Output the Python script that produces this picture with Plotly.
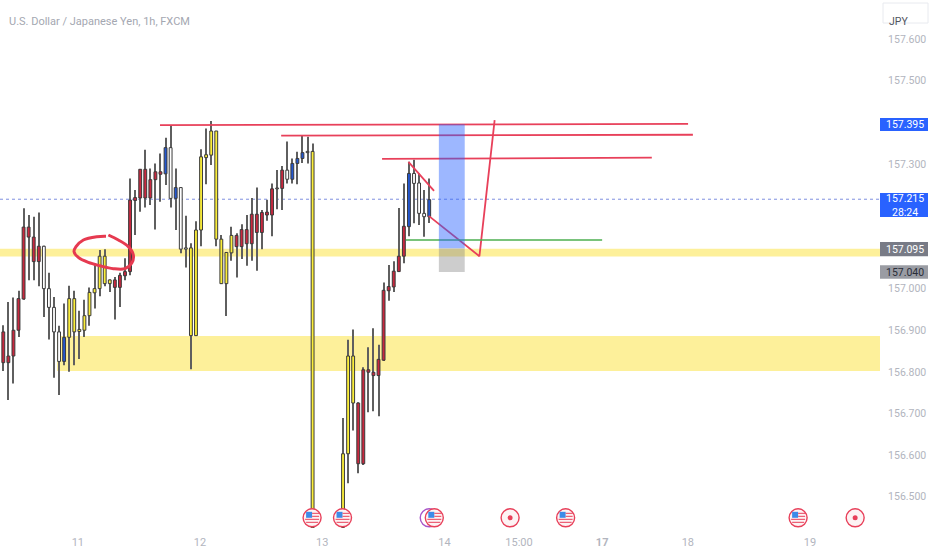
import plotly.graph_objects as go

# 1h candles, prices. Gap of 5 bars before the second leg of day 13.
candle_x = list(range(0, 62)) + list(range(67, 85))

highs = [156.912, 156.968, 156.979, 156.995, 157.193, 157.177, 157.173, 157.183, 157.103, 157.038,
         156.980, 156.911, 156.964, 157.007, 156.995, 156.947, 156.973, 157.003, 157.061, 157.093,
         157.095, 157.022, 157.028, 157.038, 157.073, 157.265, 157.237, 157.287, 157.334, 157.289,
         157.301, 157.325, 157.363, 157.393, 157.289, 157.243, 157.175, 157.109, 157.162, 157.335,
         157.385, 157.403, 157.379, 157.129, 157.087, 157.149, 157.133, 157.155, 157.177, 157.218,
         157.243, 157.189, 157.214, 157.253, 157.285, 157.295, 157.354, 157.313, 157.329, 157.369,
         157.365, 157.349,
         156.689, 156.877, 156.902, 156.727, 156.811, 156.859, 156.905, 156.865, 157.015, 157.057,
         157.066, 157.194, 157.253, 157.305, 157.310, 157.277, 157.237, 157.265]
body_tops = [156.896, 156.838, 156.900, 156.976, 157.148, 157.148, 157.124, 157.102, 157.102, 157.000,
             156.955, 156.896, 156.883, 156.976, 156.976, 156.902, 156.935, 156.991, 157.000, 157.078,
             157.078, 157.021, 157.021, 157.032, 157.041, 157.213, 157.219, 157.287, 157.287, 157.262,
             157.281, 157.281, 157.339, 157.339, 157.243, 157.243, 157.098, 157.098, 157.141, 157.317,
             157.322, 157.379, 157.379, 157.119, 157.087, 157.128, 157.128, 157.142, 157.142, 157.179,
             157.179, 157.183, 157.184, 157.240, 157.242, 157.285, 157.285, 157.301, 157.313, 157.327,
             157.330, 157.330,
             156.603, 156.838, 156.838, 156.725, 156.805, 156.805, 156.799, 156.830, 156.996, 157.005,
             157.042, 157.078, 157.150, 157.277, 157.277, 157.254, 157.181, 157.214]
body_bottoms = [156.822, 156.822, 156.838, 156.900, 156.975, 157.124, 157.065, 157.065, 157.000, 156.955,
                156.896, 156.825, 156.825, 156.883, 156.896, 156.897, 156.900, 156.935, 156.990, 157.000,
                157.012, 157.012, 157.003, 157.003, 157.031, 157.041, 157.212, 157.218, 157.218, 157.218,
                157.262, 157.275, 157.276, 157.217, 157.217, 157.095, 157.095, 156.887, 156.887, 157.141,
                157.315, 157.321, 157.119, 157.012, 157.012, 157.086, 157.101, 157.101, 157.108, 157.108,
                157.135, 157.135, 157.177, 157.177, 157.240, 157.241, 157.263, 157.263, 157.301, 157.313,
                157.327, 156.425,
                156.426, 156.603, 156.725, 156.579, 156.579, 156.799, 156.791, 156.791, 156.828, 156.995,
                157.004, 157.041, 157.078, 157.149, 157.253, 157.181, 157.173, 157.173]
lows = [156.802, 156.732, 156.772, 156.884, 156.973, 157.020, 157.020, 157.006, 156.932, 156.878,
        156.786, 156.744, 156.816, 156.800, 156.816, 156.831, 156.884, 156.911, 156.952, 156.982,
        157.006, 156.992, 156.926, 156.956, 157.020, 157.032, 157.129, 157.185, 157.195, 157.201,
        157.142, 157.209, 157.249, 157.195, 157.141, 157.085, 157.051, 156.806, 156.886, 157.102,
        157.251, 157.297, 157.102, 157.011, 156.934, 157.067, 157.027, 157.071, 157.055, 157.067,
        157.043, 157.095, 157.163, 157.126, 157.191, 157.189, 157.253, 157.253, 157.251, 157.302,
        157.301, 156.420,
        156.420, 156.532, 156.659, 156.556, 156.576, 156.703, 156.705, 156.693, 156.826, 156.971,
        156.992, 157.040, 157.061, 157.126, 157.157, 157.153, 157.125, 157.158]
kinds = list("RRRRRRRR" "WWWW" "B" "YYYYYYYYY" "RRRRRRRRRR" "B" "W" "B" "W" "D" "YYYYYYYYY"
             "RRRRRRRR" "D" "R" "W" "BBB" "D" "Y"
             "YYY" "RRRRRRRRRR" "B" "WWW" "B")

shown_prices = [157.6, 157.5, 157.3, 157.0, 156.9, 156.8, 156.7, 156.6, 156.5]
time_ticks = [14.7, 38.8, 62.9, 87.0, 101.7, 118.1, 135.0, 159.1]
time_labels = ["11", "12", "13", "14", "15:00", "<b>17</b>", "18", "19"]

# hand drawn lines on the chart: [x0, price0, x1, price1]
red_levels = [[30.9, 157.393, 135.05, 157.396],
              [54.8, 157.368, 136.0, 157.370],
              [74.7, 157.312, 127.9, 157.315],
              [79.9, 157.305, 84.95, 157.235]]
zigzag_x = [83.9, 93.9, 96.9]
zigzag_y = [157.175, 157.078, 157.405]
green_x = [79.4, 118.1]
green_y = [157.117, 157.117]
circle_x = [20.26, 18.42, 15.79, 14.34, 13.95, 14.80, 16.77, 19.07, 21.7, 24.0, 25.32, 25.65, 24.66, 22.69, 20.72]
circle_y = [157.126, 157.125, 157.117, 157.101, 157.089, 157.075, 157.063, 157.055, 157.048, 157.048,
            157.061, 157.081, 157.101, 157.117, 157.129]

# zones
x_end = 172.9
upper_band = [157.096, 157.077]
lower_band = [156.886, 156.802]
lower_band_start = 10.6
target_x = [85.9, 91.0]
target_y = [157.395, 157.097]
stop_y = [157.097, 157.040]

# economic events along the bottom
flag_events = [60.9, 66.9, 85.0, 110.9, 156.75]
dot_events = [99.95, 168.0]
purple_event = 84.0
event_price = 156.449

KIND_COLORS = {"R": "#c9283f", "Y": "#fbee3a", "B": "#2458d0", "W": "#ffffff", "D": "#f4f0d8"}
RED = "#e8405a"
GREY_TEXT = "#b2b5be"

fig = go.Figure()

# wicks first, then bodies on top
fig.add_trace(go.Bar(x=candle_x, base=lows, y=[h - l for h, l in zip(highs, lows)], width=0.2,
                     marker=dict(color="#5f5f5f", line=dict(width=0)), hoverinfo="skip"))
fig.add_trace(go.Bar(x=candle_x, base=body_bottoms, y=[t - b for t, b in zip(body_tops, body_bottoms)], width=0.56,
                     marker=dict(color=[KIND_COLORS[k] for k in kinds], line=dict(color="#3a3a3a", width=1)),
                     hoverinfo="skip"))

for x0, y0, x1, y1 in red_levels:
    fig.add_trace(go.Scatter(x=[x0, x1], y=[y0, y1], mode="lines", line=dict(color=RED, width=1.8), hoverinfo="skip"))
fig.add_trace(go.Scatter(x=zigzag_x, y=zigzag_y, mode="lines", line=dict(color=RED, width=1.8), hoverinfo="skip"))
fig.add_trace(go.Scatter(x=green_x, y=green_y, mode="lines", line=dict(color="#4caf50", width=1.3), hoverinfo="skip"))
fig.add_trace(go.Scatter(x=circle_x, y=circle_y, mode="lines", line=dict(color="#e63a50", width=3, shape="spline"),
                         hoverinfo="skip"))

shapes = [
    dict(type="rect", x0=-0.65, x1=x_end, y0=upper_band[0], y1=upper_band[1], fillcolor="#fdf09a", line_width=0, layer="below"),
    dict(type="rect", x0=lower_band_start, x1=x_end, y0=lower_band[0], y1=lower_band[1], fillcolor="#fdf09a", line_width=0, layer="below"),
    dict(type="rect", x0=target_x[0], x1=target_x[1], y0=target_y[0], y1=target_y[1], fillcolor="rgba(41,98,255,0.46)", line_width=0),
    dict(type="rect", x0=target_x[0], x1=target_x[1], y0=stop_y[0], y1=stop_y[1], fillcolor="rgba(130,130,130,0.4)", line_width=0),
    dict(type="line", xref="paper", x0=0, x1=1, y0=157.215, y1=157.215, line=dict(color="#7f8fe0", width=1, dash="dot"), layer="below"),
]


def pixel_shape(kind, xc, x0, x1, y0, y1, **kw):
    return dict(type=kind, xsizemode="pixel", ysizemode="pixel", xanchor=xc, yanchor=event_price,
                x0=x0, x1=x1, y0=y0, y1=y1, **kw)


shapes.append(pixel_shape("circle", purple_event, -9, 9, -9, 9, fillcolor="#ffffff", line=dict(color="#a855c8", width=1.4)))
for xc in flag_events:
    shapes.append(pixel_shape("circle", xc, -9, 9, -9, 9, fillcolor="#fdf3f4", line=dict(color=RED, width=1.4)))
    shapes.append(pixel_shape("rect", xc, -6, 0, 0, 6, fillcolor="#3d8be8", line_width=0))
    for offset, left in [(5, 0), (2, 0), (-1, -7), (-4, -6)]:
        shapes.append(pixel_shape("rect", xc, left, -left if left else 7, offset - 1, offset, fillcolor=RED, line_width=0))
for xc in dot_events:
    shapes.append(pixel_shape("circle", xc, -9, 9, -9, 9, fillcolor="#fdf3f4", line=dict(color=RED, width=1.4)))
    shapes.append(pixel_shape("circle", xc, -2.5, 2.5, -2.5, 2.5, fillcolor=RED, line_width=0))

# price tags in the right hand scale
tag_right = 1 + 48 / 880
tags = [(157.410, 157.379, "#2962ff", "157.395", "#ffffff", 157.395),
        (157.230, 157.172, "#2962ff", "157.215<br>28:24", "#ffffff", 157.201),
        (157.112, 157.078, "#787b86", "157.095", "#ffffff", 157.095),
        (157.056, 157.024, "#9a9ca3", "157.040", "#2a2e39", 157.040)]
annotations = []
for top, bottom, fill, text, color, mid in tags:
    shapes.append(dict(type="rect", xref="paper", x0=1, x1=tag_right, y0=bottom, y1=top, fillcolor=fill, line_width=0))
    annotations.append(dict(xref="paper", x=1 + 25 / 880, y=mid, xanchor="center", text=text, showarrow=False,
                            font=dict(family="Roboto", size=10.5, color=color)))

# currency button
shapes.append(dict(type="rect", xref="paper", yref="paper", x0=1 + 3 / 880, x1=tag_right, y0=1 - 23 / 528, y1=1 - 3 / 528,
                   fillcolor="#ffffff", line=dict(color="#e8eaef", width=1)))
annotations.append(dict(xref="paper", yref="paper", x=1 + 18 / 880, y=1 - 13 / 528, xanchor="center", text="JPY", showarrow=False,
                        font=dict(family="Roboto", size=10.5, color="#50535e")))
annotations.append(dict(xref="paper", yref="paper", x=7 / 880, y=1 - 13 / 528, xanchor="left", showarrow=False,
                        text="U.S. Dollar / Japanese Yen, 1h, FXCM",
                        font=dict(family="Roboto", size=11, color="#a4a7b1")))

fig.update_layout(
    width=932, height=550,
    margin=dict(l=0, r=52, t=0, b=22),
    paper_bgcolor="#ffffff", plot_bgcolor="#ffffff",
    barmode="overlay", showlegend=False,
    shapes=shapes, annotations=annotations,
    font=dict(family="Roboto", size=11, color=GREY_TEXT),
)
fig.update_xaxes(range=[-0.65, x_end], showgrid=False, zeroline=False, showline=False,
                 tickmode="array", tickvals=time_ticks, ticktext=time_labels, ticks="outside", ticklen=4,
                 tickcolor="rgba(0,0,0,0)", tickfont=dict(size=11, color=GREY_TEXT))
fig.update_yaxes(range=[156.4245, 157.694], side="right", showgrid=False, zeroline=False, showline=False,
                 tickmode="array", tickvals=shown_prices, ticktext=[f"{p:.3f}" for p in shown_prices],
                 ticks="outside", ticklen=5, tickcolor="rgba(0,0,0,0)", tickfont=dict(size=10.5, color=GREY_TEXT))

# the browser's default body margin would push the fixed size figure off the window
fig.write_html("out.html", config=dict(displayModeBar=False),
               post_script="document.body.style.margin='0';document.documentElement.style.overflow='hidden';")
